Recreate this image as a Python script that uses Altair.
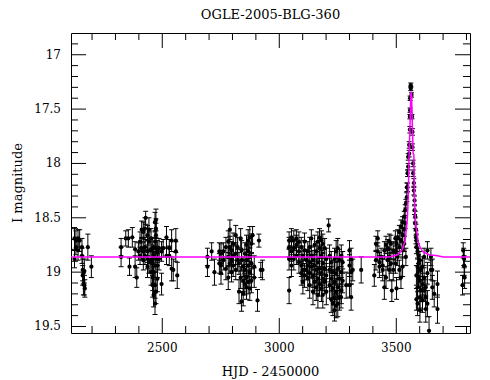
import altair as alt
import pandas as pd

# ---- observations: (HJD-2450000, I mag, error) per season ----
season_2001 = [
    (2125, 18.69, 0.10), (2125, 18.88, 0.08), (2131, 18.71, 0.09), (2131, 18.77, 0.07),
    (2140, 18.69, 0.08), (2140, 18.80, 0.09), (2147, 18.71, 0.10), (2157, 18.77, 0.08),
    (2157, 18.85, 0.07), (2160, 18.98, 0.10), (2160, 19.03, 0.09), (2163, 19.11, 0.10),
    (2167, 18.99, 0.11), (2167, 19.12, 0.09), (2169, 19.15, 0.08), (2182, 18.77, 0.12),
    (2197, 18.95, 0.10),
]
season_2002 = [
    (2324, 18.77, 0.08), (2324, 18.86, 0.09), (2344, 18.69, 0.07), (2355, 18.69, 0.08),
    (2360, 18.95, 0.08), (2372, 18.68, 0.09), (2384, 18.79, 0.07), (2384, 18.95, 0.10),
    (2391, 19.05, 0.09), (2398, 18.81, 0.08), (2405, 18.72, 0.09), (2405, 18.85, 0.08),
    (2412, 18.61, 0.08), (2412, 18.78, 0.10), (2419, 18.63, 0.09), (2419, 18.81, 0.08),
    (2419, 18.89, 0.09), (2426, 18.60, 0.10), (2426, 18.77, 0.09), (2426, 18.85, 0.08),
    (2429, 18.50, 0.06), (2437, 18.66, 0.09), (2437, 18.81, 0.10), (2437, 18.88, 0.09),
    (2437, 18.95, 0.10), (2443, 18.61, 0.11), (2443, 18.72, 0.09), (2443, 18.91, 0.10),
    (2452, 18.69, 0.09), (2452, 18.80, 0.11), (2452, 18.89, 0.10), (2452, 19.00, 0.12),
    (2459, 18.78, 0.10), (2459, 18.92, 0.11), (2459, 19.05, 0.12), (2459, 19.12, 0.11),
    (2463, 18.85, 0.10), (2463, 19.00, 0.12), (2463, 19.21, 0.11), (2469, 18.54, 0.09),
    (2469, 18.72, 0.10), (2469, 18.94, 0.11), (2469, 19.12, 0.12), (2469, 19.29, 0.10),
    (2473, 18.52, 0.10), (2473, 18.60, 0.09), (2473, 18.66, 0.11), (2473, 18.78, 0.10),
    (2473, 18.88, 0.12), (2473, 19.18, 0.11), (2479, 18.81, 0.10), (2479, 18.94, 0.11),
    (2479, 19.06, 0.12), (2486, 18.78, 0.09), (2486, 18.88, 0.10), (2497, 18.81, 0.09),
    (2497, 19.11, 0.10), (2504, 18.78, 0.08), (2518, 18.68, 0.10), (2518, 18.85, 0.08),
    (2530, 18.78, 0.08), (2530, 18.85, 0.09), (2540, 18.71, 0.10), (2540, 18.97, 0.11),
    (2547, 18.98, 0.10), (2558, 18.71, 0.11), (2558, 18.81, 0.09), (2564, 19.03, 0.12),
]
season_2003 = [
    (2693, 18.86, 0.08), (2693, 18.95, 0.09), (2711, 18.81, 0.08), (2723, 19.00, 0.12),
    (2744, 18.81, 0.08), (2744, 18.92, 0.09), (2751, 18.83, 0.09), (2751, 18.94, 0.08),
    (2751, 19.01, 0.10), (2761, 18.81, 0.08), (2761, 18.89, 0.09), (2772, 18.77, 0.09),
    (2772, 18.97, 0.10), (2782, 18.72, 0.10), (2782, 18.86, 0.09), (2782, 19.05, 0.11),
    (2789, 18.61, 0.09), (2789, 18.77, 0.10), (2789, 18.92, 0.09), (2796, 18.80, 0.08),
    (2796, 18.89, 0.10), (2796, 19.00, 0.09), (2803, 18.74, 0.10), (2803, 18.85, 0.09),
    (2803, 18.94, 0.10), (2814, 18.66, 0.09), (2814, 18.83, 0.10), (2814, 18.98, 0.09),
    (2822, 18.77, 0.09), (2822, 18.89, 0.10), (2828, 18.92, 0.10), (2828, 19.18, 0.11),
    (2835, 18.69, 0.09), (2835, 19.05, 0.10), (2839, 18.80, 0.09), (2839, 18.89, 0.10),
    (2839, 19.27, 0.09), (2846, 18.95, 0.09), (2846, 19.08, 0.10), (2846, 19.20, 0.11),
    (2853, 18.83, 0.10), (2853, 18.98, 0.09), (2853, 19.11, 0.10), (2860, 18.75, 0.09),
    (2860, 18.89, 0.10), (2860, 19.05, 0.10), (2860, 19.14, 0.11), (2867, 18.71, 0.10),
    (2867, 18.81, 0.09), (2867, 18.94, 0.10), (2867, 19.09, 0.11), (2874, 18.68, 0.10),
    (2874, 18.86, 0.09), (2874, 19.00, 0.10), (2874, 19.15, 0.11), (2881, 18.74, 0.09),
    (2881, 18.92, 0.10), (2881, 19.08, 0.11), (2886, 18.66, 0.08), (2893, 18.95, 0.10),
    (2893, 19.05, 0.09), (2907, 19.26, 0.10), (2913, 18.71, 0.06), (2921, 18.98, 0.07),
    (2928, 18.98, 0.09),
]
season_2004 = [
    (3042, 18.71, 0.08), (3042, 18.77, 0.09), (3042, 18.88, 0.10), (3042, 19.17, 0.12),
    (3052, 18.68, 0.08), (3052, 18.81, 0.09), (3052, 18.94, 0.10), (3062, 18.71, 0.09),
    (3062, 18.78, 0.08), (3062, 18.88, 0.10), (3073, 18.69, 0.08), (3073, 18.75, 0.09),
    (3073, 18.85, 0.08), (3084, 18.72, 0.09), (3084, 18.81, 0.08), (3084, 18.91, 0.10),
    (3094, 18.77, 0.09), (3094, 18.94, 0.10), (3094, 19.01, 0.11), (3101, 18.85, 0.09),
    (3101, 18.98, 0.10), (3101, 19.09, 0.11), (3108, 18.72, 0.08), (3108, 18.80, 0.09),
    (3108, 19.03, 0.11), (3116, 18.89, 0.10), (3116, 18.98, 0.09), (3122, 18.81, 0.09),
    (3122, 18.94, 0.10), (3122, 19.06, 0.11), (3130, 18.77, 0.09), (3130, 18.91, 0.10),
    (3130, 19.01, 0.11), (3130, 19.12, 0.12), (3137, 18.69, 0.08), (3137, 18.85, 0.09),
    (3137, 18.95, 0.10), (3144, 18.89, 0.09), (3144, 19.03, 0.11), (3144, 19.18, 0.12),
    (3151, 18.75, 0.09), (3151, 18.94, 0.10), (3151, 19.09, 0.11), (3158, 18.81, 0.09),
    (3158, 18.98, 0.10), (3158, 19.14, 0.12), (3165, 18.72, 0.09), (3165, 18.91, 0.10),
    (3165, 19.06, 0.11), (3165, 19.21, 0.12), (3172, 18.68, 0.08), (3172, 18.78, 0.09),
    (3172, 18.97, 0.10), (3172, 19.11, 0.11), (3180, 18.71, 0.09), (3180, 18.85, 0.10),
    (3180, 19.01, 0.11), (3180, 19.15, 0.12), (3186, 18.74, 0.09), (3186, 18.92, 0.10),
    (3186, 19.06, 0.11), (3186, 19.21, 0.12), (3194, 18.78, 0.09), (3194, 18.97, 0.10),
    (3194, 19.09, 0.11), (3201, 18.88, 0.10), (3201, 19.03, 0.11), (3201, 19.18, 0.12),
    (3211, 18.57, 0.06), (3215, 18.85, 0.10), (3215, 18.98, 0.11), (3215, 19.12, 0.12),
    (3222, 18.91, 0.10), (3222, 19.06, 0.11), (3222, 19.25, 0.12), (3229, 19.00, 0.11),
    (3229, 19.15, 0.12), (3229, 19.29, 0.11), (3236, 18.88, 0.10), (3236, 19.09, 0.11),
    (3236, 19.23, 0.12), (3236, 19.35, 0.10), (3243, 18.81, 0.10), (3243, 19.01, 0.11),
    (3243, 19.18, 0.12), (3243, 19.31, 0.11), (3250, 18.78, 0.09), (3250, 18.97, 0.10),
    (3250, 19.14, 0.11), (3250, 19.29, 0.12), (3257, 18.89, 0.10), (3257, 19.06, 0.11),
    (3257, 19.23, 0.12), (3264, 19.23, 0.10), (3265, 18.85, 0.10), (3265, 19.00, 0.11),
    (3265, 19.17, 0.12), (3271, 18.91, 0.10), (3271, 19.08, 0.11), (3286, 19.12, 0.12),
    (3300, 18.80, 0.09), (3300, 18.94, 0.10), (3300, 19.12, 0.11), (3307, 18.88, 0.10),
    (3307, 19.00, 0.11), (3307, 19.23, 0.12), (3314, 18.98, 0.10), (3350, 18.98, 0.12),
]
season_2005 = [
    (3406, 19.03, 0.10), (3413, 18.74, 0.07), (3413, 18.89, 0.09), (3421, 18.69, 0.07),
    (3421, 18.81, 0.08), (3428, 18.91, 0.09), (3428, 18.95, 0.10), (3435, 18.86, 0.08),
    (3442, 18.94, 0.09), (3442, 18.98, 0.10), (3449, 19.14, 0.11), (3449, 18.80, 0.08),
    (3456, 18.75, 0.08), (3456, 19.05, 0.10), (3463, 18.78, 0.08), (3463, 18.89, 0.09),
    (3470, 18.72, 0.07), (3470, 18.86, 0.08), (3470, 18.98, 0.10), (3477, 18.74, 0.08),
    (3477, 18.92, 0.09), (3481, 19.17, 0.10), (3487, 18.80, 0.08), (3487, 18.98, 0.10),
    (3496, 18.69, 0.07), (3496, 18.81, 0.08), (3496, 18.92, 0.09), (3501, 19.15, 0.10),
    (3501, 18.74, 0.07), (3506, 18.68, 0.07), (3506, 18.86, 0.08), (3513, 18.63, 0.06),
    (3513, 18.77, 0.07), (3513, 18.98, 0.09), (3520, 18.58, 0.06), (3520, 18.71, 0.07),
    (3520, 19.05, 0.10), (3527, 18.54, 0.05), (3527, 18.66, 0.06), (3527, 18.80, 0.07),
    (3527, 18.95, 0.09), (3534, 18.49, 0.05), (3534, 18.61, 0.06), (3534, 18.74, 0.07),
    (3538, 18.43, 0.05), (3538, 18.55, 0.05), (3541, 18.37, 0.04), (3541, 18.86, 0.08),
    (3545, 18.31, 0.04), (3545, 18.22, 0.04), (3548, 18.22, 0.04), (3548, 18.09, 0.03),
    (3551, 18.03, 0.03), (3551, 17.94, 0.03), (3555, 17.91, 0.03), (3555, 17.83, 0.03),
    (3558, 17.69, 0.03), (3558, 17.57, 0.02), (3559, 17.51, 0.02), (3559, 17.40, 0.02),
    (3562, 17.31, 0.02), (3562, 17.28, 0.02), (3565, 17.37, 0.02), (3567, 17.57, 0.02),
    (3569, 17.71, 0.03), (3569, 17.85, 0.03), (3572, 18.00, 0.03), (3572, 18.09, 0.03),
    (3575, 18.18, 0.04), (3575, 18.25, 0.04), (3578, 18.34, 0.04), (3578, 18.43, 0.04),
    (3581, 18.49, 0.05), (3581, 18.55, 0.05), (3584, 18.61, 0.05), (3584, 18.68, 0.06),
    (3586, 18.71, 0.06), (3586, 18.77, 0.06), (3586, 19.03, 0.09), (3586, 19.25, 0.10),
    (3591, 18.81, 0.07), (3591, 18.95, 0.08), (3591, 19.14, 0.10), (3591, 19.29, 0.11),
    (3595, 18.85, 0.07), (3595, 18.92, 0.08), (3595, 19.05, 0.09), (3601, 18.89, 0.08),
    (3601, 19.08, 0.09), (3601, 19.23, 0.10), (3601, 19.35, 0.11), (3605, 18.98, 0.09),
    (3605, 19.17, 0.10), (3612, 18.95, 0.09), (3612, 19.11, 0.10), (3612, 19.26, 0.11),
    (3619, 18.86, 0.08), (3619, 19.05, 0.09), (3619, 19.17, 0.10), (3626, 19.14, 0.10),
    (3626, 19.23, 0.11), (3626, 19.34, 0.12), (3633, 18.80, 0.08), (3633, 19.01, 0.10),
    (3633, 19.29, 0.12), (3640, 19.54, 0.13), (3648, 18.86, 0.08), (3648, 18.98, 0.09),
    (3654, 18.98, 0.10), (3654, 19.14, 0.11), (3662, 19.20, 0.12), (3676, 19.11, 0.12),
    (3676, 19.34, 0.13),
]
season_2006 = [
    (3783, 19.12, 0.09), (3786, 18.80, 0.07), (3788, 18.86, 0.08), (3790, 18.88, 0.08),
    (3790, 18.94, 0.09), (3792, 19.05, 0.10),
]

# ---- microlensing model curve ----
model_hjd = [2100, 3470, 3506, 3524, 3538, 3547, 3551, 3555, 3560, 3562, 3563.5,
             3565, 3572, 3575, 3578, 3584, 3595, 3612, 3640, 3676, 3700, 3830]
model_mag = [18.86, 18.86, 18.84, 18.80, 18.71, 18.52, 18.31, 17.91, 17.54, 17.36, 17.35,
             17.36, 17.91, 17.92, 18.37, 18.58, 18.74, 18.81, 18.84, 18.85, 18.86, 18.86]

# ---- axis ticks and labels ----
x_major = [2500, 3000, 3500]
x_labels = ["2500", "3000", "3500"]
x_minor = [2200, 2300, 2400, 2600, 2700, 2800, 2900, 3100, 3200,
           3300, 3400, 3600, 3700, 3800]
y_major = [17, 17.5, 18, 18.5, 19, 19.5]
y_labels = ["17", "17.5", "18", "18.5", "19", "19.5"]
y_minor = [16.9, 17.1, 17.2, 17.3, 17.4, 17.6, 17.7, 17.8, 17.9,
           18.1, 18.2, 18.3, 18.4, 18.6, 18.7, 18.8, 18.9,
           19.1, 19.2, 19.3, 19.4]
x_title = "HJD - 2450000"
y_title = "I magnitude"
chart_title = "OGLE-2005-BLG-360"

rows = season_2001 + season_2002 + season_2003 + season_2004 + season_2005 + season_2006
df = pd.DataFrame(rows, columns=["hjd", "mag", "err"])
df["lo"] = df["mag"] - df["err"]
df["hi"] = df["mag"] + df["err"]
model = pd.DataFrame({"hjd": model_hjd, "mag": model_mag})

W, H = 399, 300
MAJ, MIN = 15, 7
XL, XR = 2110, 3815
YT, YB = 16.8, 19.56
FONT = "DejaVu Serif"
xs = alt.Scale(domain=[XL, XR], nice=False, zero=False)
ys = alt.Scale(domain=[YT, YB], reverse=True, nice=False, zero=False)


def X(f):
    return alt.X(f, scale=xs, axis=None)


def Y(f):
    return alt.Y(f, scale=ys, axis=None)


base = alt.Chart(df)
bars = base.mark_rule(color="black", strokeWidth=1, clip=True).encode(
    x=X("hjd:Q"), y=Y("lo:Q"), y2="hi:Q")
caps_lo = base.mark_tick(orient="horizontal", size=5, thickness=1, color="black",
                         opacity=1, clip=True).encode(x=X("hjd:Q"), y=Y("lo:Q"))
caps_hi = base.mark_tick(orient="horizontal", size=5, thickness=1, color="black",
                         opacity=1, clip=True).encode(x=X("hjd:Q"), y=Y("hi:Q"))
pts = base.mark_point(filled=True, shape="circle", size=18, color="black",
                      opacity=1, clip=True).encode(x=X("hjd:Q"), y=Y("mag:Q"))
line = alt.Chart(model).mark_line(color="#ff00ff", strokeWidth=1.5, clip=True).encode(
    x=X("hjd:Q"), y=Y("mag:Q"))

# inward frame ticks drawn as tick marks (same mark type as the error-bar caps),
# centred half a tick length inside each edge, converted to data units
ypx = (YB - YT) / H
xpx = (XR - XL) / W


def frame_x_ticks(vals, n):
    d = pd.DataFrame({
        "hjd": vals + vals,
        "yc": [YB - n / 2 * ypx] * len(vals) + [YT + n / 2 * ypx] * len(vals),
    })
    return alt.Chart(d).mark_tick(orient="vertical", size=n, thickness=1,
                                  color="black", opacity=1).encode(
        x=X("hjd:Q"), y=Y("yc:Q"))


def frame_y_ticks(vals, n):
    d = pd.DataFrame({
        "mag": vals + vals,
        "xc": [XL + n / 2 * xpx] * len(vals) + [XR - n / 2 * xpx] * len(vals),
    })
    return alt.Chart(d).mark_tick(orient="horizontal", size=n, thickness=1,
                                  color="black", opacity=1).encode(
        x=X("xc:Q"), y=Y("mag:Q"))


ticks = [frame_x_ticks(x_major, MAJ), frame_x_ticks(x_minor, MIN),
         frame_y_ticks(y_major, MAJ), frame_y_ticks(y_minor, MIN)]

# tick labels and axis titles as text placed through the scales
xl = pd.DataFrame({"hjd": x_major, "label": x_labels})
yl = pd.DataFrame({"mag": y_major, "label": y_labels})
xlab = alt.Chart(xl).mark_text(font=FONT, fontSize=12, color="black", align="center",
                               baseline="middle").encode(
    x=X("hjd:Q"), y=alt.value(H + 15), text="label:N")
ylab = alt.Chart(yl).mark_text(font=FONT, fontSize=12, color="black", align="right",
                               baseline="middle").encode(
    y=Y("mag:Q"), x=alt.value(-10), text="label:N")
xtit = alt.Chart(pd.DataFrame({"t": [x_title]})).mark_text(
    font=FONT, fontSize=13, color="black", align="center", baseline="middle").encode(
    x=alt.value(W / 2), y=alt.value(H + 39), text="t:N")
ytit = alt.Chart(pd.DataFrame({"t": [y_title]})).mark_text(
    font=FONT, fontSize=13, color="black", align="center", baseline="middle", angle=270).encode(
    x=alt.value(-53), y=alt.value(H / 2), text="t:N")

chart = alt.layer(bars, caps_lo, caps_hi, pts, line, *ticks,
                  xlab, ylab, xtit, ytit).properties(
    width=W, height=H,
    title=alt.TitleParams(chart_title, font=FONT, fontSize=13,
                          fontWeight="normal", color="black", anchor="middle", offset=11),
    autosize=alt.AutoSizeParams(type="none"),
    padding={"left": 63, "top": 25, "right": 12, "bottom": 46},
    background="white",
).configure_view(stroke="black", strokeWidth=1)

chart.save("out.html", embed_options={"renderer": "svg", "actions": False})
